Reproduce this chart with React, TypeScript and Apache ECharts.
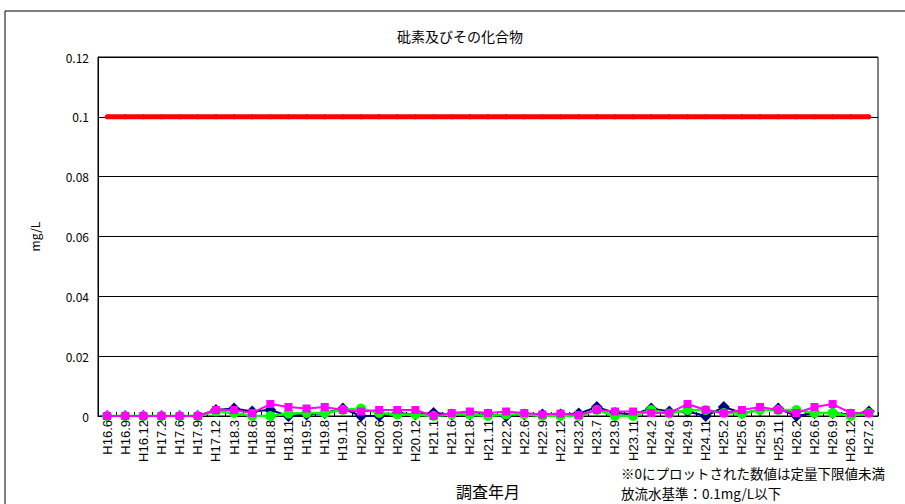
import React, { useEffect, useRef } from "react";
import * as echarts from "echarts";

const categories = [
  "H16.6", "H16.9", "H16.12", "H17.2", "H17.6", "H17.9", "H17.12", "H18.3", "H18.6", "H18.8",
  "H18.11", "H19.5", "H19.8", "H19.11", "H20.2", "H20.6", "H20.9", "H20.12", "H21.1", "H21.6",
  "H21.8", "H21.11", "H22.2", "H22.6", "H22.9", "H22.12", "H23.2", "H23.7", "H23.9", "H23.11",
  "H24.2", "H24.6", "H24.9", "H24.11", "H25.2", "H25.6", "H25.9", "H25.11", "H26.2", "H26.6",
  "H26.9", "H26.12", "H27.2",
];

const navyValues = [
  0, 0, 0, 0, 0, 0, 0.002, 0.0025, 0.0015, 0.002,
  0, 0.0005, 0.001, 0.0025, 0, 0, 0.001, 0.0005, 0.001, 0.0005,
  0.0005, 0.0005, 0, 0.0005, 0.0005, 0.0005, 0.0008, 0.003, 0.001, 0.0005,
  0.0025, 0.0015, 0.0015, 0, 0.003, 0.001, 0.002, 0.0025, 0, 0.001,
  0.001, 0.0005, 0.0015,
];

const greenValues = [
  0, 0, 0, 0, 0, 0, 0.0015, 0.001, 0, 0,
  0.0008, 0.001, 0.001, 0.002, 0.0025, 0.001, 0.0005, 0.0005, 0, 0.0005,
  0.0005, 0, 0.0005, 0.0005, 0, 0, 0, 0.002, 0, 0,
  0.002, 0.0008, 0.002, 0.002, 0.001, 0.0008, 0.002, 0.002, 0.002, 0.001,
  0.001, 0, 0.001,
];

const magentaValues = [
  0, 0, 0, 0, 0, 0, 0.002, 0.002, 0.001, 0.004,
  0.003, 0.0025, 0.003, 0.002, 0.0015, 0.002, 0.002, 0.002, 0, 0.001,
  0.0015, 0.001, 0.0015, 0.001, 0.0005, 0.0008, 0.0003, 0.002, 0.0015, 0.0015,
  0.001, 0.001, 0.004, 0.002, 0.001, 0.002, 0.003, 0.002, 0.001, 0.003,
  0.004, 0.001, 0.001,
];

const standardValue = 0.1;
const standardValues = categories.map(() => standardValue);

const yTicks = { min: 0, max: 0.12, interval: 0.02 };

const notes = ["※0にプロットされた数値は定量下限値未満", "放流水基準：0.1mg/L以下"];

const FONT = "'Noto Sans CJK JP', 'Noto Sans', sans-serif";
const LATIN = "'Liberation Sans', Arial, sans-serif";

export default function App() {
  const ref = useRef<HTMLDivElement>(null);
  useEffect(() => {
    if (!ref.current) return;
    const chart = echarts.init(ref.current, null, { renderer: "svg" });
    chart.setOption({
      animation: false,
      backgroundColor: "#ffffff",
      textStyle: { fontFamily: FONT },
      title: {
        text: "砒素及びその化合物",
        left: 455,
        top: 24,
        textAlign: "center",
        textStyle: { fontSize: 14, fontWeight: "normal", color: "#000", fontFamily: FONT },
      },
      graphic: [
        {
          type: "rect",
          shape: { x: 5, y: 11, width: 920, height: 520 },
          style: { fill: "none", stroke: "#000", lineWidth: 1 },
          silent: true,
        },
        {
          type: "text",
          x: 621,
          y: 466,
          style: {
            text: notes[0],
            fill: "#000",
            fontSize: 13.5,
            fontFamily: FONT,
            verticalAlign: "top",
          },
        },
        {
          type: "text",
          x: 621,
          y: 486,
          style: {
            text: notes[1],
            fill: "#000",
            fontSize: 13.5,
            fontFamily: FONT,
            verticalAlign: "top",
          },
        },
      ],
      grid: {
        left: 98,
        right: 27,
        top: 57,
        bottom: 86,
        show: true,
        borderColor: "#000",
        borderWidth: 1,
        backgroundColor: "transparent",
      },
      xAxis: {
        type: "category",
        data: categories,
        boundaryGap: true,
        name: "調査年月",
        nameLocation: "middle",
        nameGap: 67,
        nameTextStyle: { fontSize: 16, color: "#000", fontFamily: FONT },
        axisLine: { show: true, lineStyle: { color: "#000", width: 1 } },
        axisTick: { show: true, inside: true, length: 4, alignWithLabel: false, lineStyle: { color: "#000" } },
        axisLabel: { rotate: 90, interval: 0, fontSize: 13, color: "#000", fontFamily: LATIN, margin: 4 },
        splitLine: { show: false },
      },
      yAxis: {
        type: "value",
        min: yTicks.min,
        max: yTicks.max,
        interval: yTicks.interval,
        name: "mg/L",
        nameLocation: "middle",
        nameGap: 58,
        nameRotate: 90,
        nameTextStyle: { fontSize: 12, color: "#000", fontFamily: FONT },
        axisLine: { show: true, lineStyle: { color: "#000" } },
        axisTick: { show: false },
        axisLabel: {
          fontSize: 12,
          color: "#000",
          fontFamily: FONT,
          margin: 9,
          formatter: (v: number) => String(parseFloat(v.toFixed(2))),
        },
        splitLine: { show: true, lineStyle: { color: "#000", width: 1 } },
      },
      series: [
        {
          name: "standard",
          type: "line",
          data: standardValues,
          symbol: "circle",
          symbolSize: 5,
          itemStyle: { color: "#ff0000" },
          lineStyle: { color: "#ff0000", width: 5 },
          z: 2,
        },
        {
          name: "navy",
          type: "line",
          data: navyValues,
          symbol: "diamond",
          symbolSize: 12,
          itemStyle: { color: "#000080" },
          lineStyle: { color: "#000080", width: 2 },
          z: 3,
        },
        {
          name: "green",
          type: "line",
          data: greenValues,
          symbol: "circle",
          symbolSize: 10,
          itemStyle: { color: "#00ff00" },
          lineStyle: { color: "#00ff00", width: 2.5 },
          z: 4,
        },
        {
          name: "magenta",
          type: "line",
          data: magentaValues,
          symbol: "rect",
          symbolSize: 8,
          itemStyle: { color: "#ff00ff" },
          lineStyle: { color: "#ff00ff", width: 2 },
          z: 5,
        },
      ],
    });
    return () => chart.dispose();
  }, []);
  return (
    <div
      ref={ref}
      style={{ position: "fixed", left: 0, top: 0, width: 905, height: 504 }}
    />
  );
}
